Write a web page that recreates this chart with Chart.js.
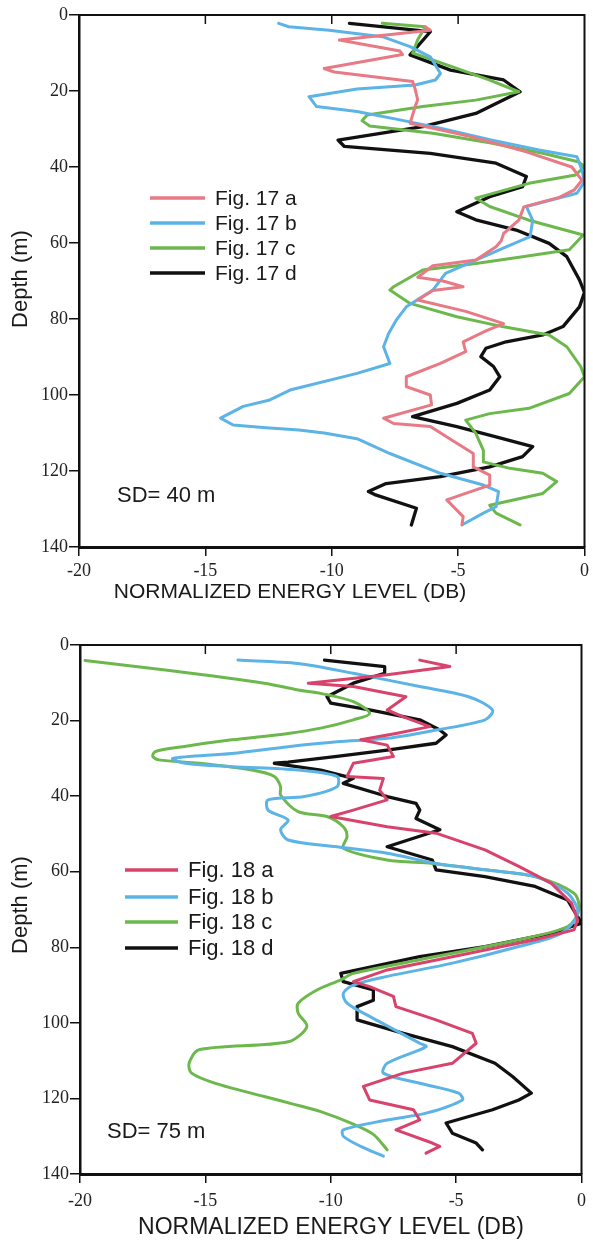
<!DOCTYPE html>
<html>
<head>
<meta charset="utf-8">
<script src="https://cdn.jsdelivr.net/npm/chart.js@4/dist/chart.umd.min.js"></script>
<style>
  html, body { margin: 0; padding: 0; background: #fff; }
  #wrap { position: relative; width: 593px; height: 1244px; }
  canvas { position: absolute; left: 0; }
</style>
</head>
<body>
<div id="wrap">
  <canvas id="c1" width="593" height="620" style="top:0"></canvas>
  <canvas id="c2" width="593" height="624" style="top:620px"></canvas>
</div>
<script>
// ---------- axis ticks ----------
const levelTicks = [-20, -15, -10, -5, 0];
const depthTicks = [0, 20, 40, 60, 80, 100, 120, 140];

// ---------- Figure 17 (SD = 40 m) ----------
const fig17Labels = ['Fig. 17 a', 'Fig. 17 b', 'Fig. 17 c', 'Fig. 17 d'];

const fig17aDepth = [3.1, 4.0, 6.6, 9.5, 10.4, 14.1, 15.0, 17.5, 19.5, 22.3, 24.1, 28.5, 32, 36, 40, 43.5, 46, 48, 50.5, 54, 57.5, 59.5, 61, 64.5, 66, 69, 70, 71.5, 72.5, 75, 78, 81.2, 83.1, 86, 88.6, 91.7, 95.2, 97.8, 100, 102.6, 106.1, 107.5, 108.3, 112.7, 115.4, 118.9, 121.1, 123.7, 127.6, 132, 134.2];
const fig17aLevel = [-6.3, -6.1, -9.7, -7.3, -7.2, -10.3, -9.9, -6.8, -6.7, -6.6, -6.7, -6.9, -4.5, -2.3, -0.5, -0.1, -0.4, -1.0, -2.4, -2.6, -3.2, -3.3, -3.5, -4.3, -6.0, -6.6, -5.6, -4.8, -6.0, -6.6, -4.7, -3.2, -3.9, -4.8, -4.7, -5.7, -7.05, -7.05, -6.1, -6.05, -7.95, -7.55, -6.1, -5.05, -4.4, -4.4, -3.75, -3.75, -5.45, -4.8, -4.85];

const fig17bDepth = [2.2, 3.1, 4.0, 5.7, 8.3, 11, 15.4, 17.1, 18.4, 19.5, 21.5, 24.1, 25.4, 27.6, 29.8, 32.9, 35.5, 37.3, 40.8, 43.9, 46.9, 50.4, 54, 58.3, 61, 64.5, 68, 72.4, 76.8, 80.3, 83.8, 87.3, 91.7, 94.3, 98.7, 101.3, 103, 106.1, 107.9, 108.6, 109.2, 110, 111.5, 115.4, 120.6, 123.7, 125.4, 129.4, 131.1, 134];
const fig17bLevel = [-12.1, -11.7, -10.1, -8.0, -6.9, -6.1, -5.7, -5.9, -6.7, -9.0, -10.9, -10.6, -9.0, -7.3, -5.7, -3.7, -1.8, -0.3, -0.1, 0.0, -0.3, -2.3, -2.05, -2.15, -3.1, -4.3, -5.5, -6.0, -7.05, -7.45, -7.75, -7.95, -7.7, -9.0, -11.65, -12.45, -13.5, -14.4, -13.9, -12.6, -11.3, -10.3, -9.0, -7.7, -5.7, -4.0, -3.4, -3.5, -4.0, -4.8];

const fig17cDepth = [2.2, 3.1, 6.5, 10, 13, 17, 20.2, 22.4, 24.1, 26.3, 27.8, 29.2, 31.1, 33.6, 36.4, 38.6, 39.9, 42.1, 44.3, 48.2, 50.4, 54, 57.9, 61.8, 63.6, 65.4, 67.1, 71.5, 72.4, 75.9, 79.4, 82, 84.2, 87.3, 92.5, 95.2, 99.6, 103.5, 104.9, 106.6, 110.1, 114.6, 117.6, 119.3, 120.6, 122.8, 125.9, 129, 131.1, 134.2];
const fig17cLevel = [-8.0, -6.3, -6.6, -6.8, -5.5, -3.8, -2.6, -4.3, -6.4, -8.6, -8.8, -8.5, -6.0, -3.75, -1.65, -0.25, 0.0, -0.35, -2.2, -4.3, -3.75, -2.2, -0.05, -0.6, -2.45, -4.3, -6.4, -7.55, -7.7, -6.9, -5.05, -3.25, -1.4, -0.7, -0.15, 0.0, -0.6, -2.2, -3.75, -4.7, -4.3, -4.0, -4.0, -2.95, -1.65, -1.1, -1.65, -3.75, -3.5, -2.55];

const fig17dDepth = [2.2, 4.4, 10.5, 14.5, 17.1, 20.2, 25.9, 29.4, 32.9, 34.6, 36.4, 39, 42.5, 45.2, 47.8, 51.8, 53.9, 56.6, 60.1, 63.6, 69.7, 73, 76.8, 82, 84.2, 86, 87.7, 89.9, 92.5, 95.2, 98.7, 102.2, 105.7, 108.3, 111, 113.6, 116.2, 118.9, 121.5, 123.3, 125.4, 126.2, 129.8, 134.2];
const fig17dLevel = [-9.3, -6.1, -6.9, -5.3, -3.2, -2.55, -4.3, -6.4, -9.75, -9.5, -6.1, -3.5, -2.3, -2.45, -3.75, -5.05, -4.3, -2.7, -1.4, -0.7, -0.2, 0.0, -0.2, -0.85, -1.65, -3.1, -3.9, -4.1, -3.6, -3.35, -3.75, -5.05, -6.8, -5.05, -3.5, -2.05, -2.45, -3.75, -5.7, -7.85, -8.55, -8.3, -6.65, -6.85];

// ---------- Figure 18 (SD = 75 m) ----------
const fig18Labels = ['Fig. 18 a', 'Fig. 18 b', 'Fig. 18 c', 'Fig. 18 d'];

const fig18aDepth = [4.0, 5.7, 7.9, 10.1, 11.0, 13.7, 17.2, 19.0, 21.6, 23.4, 25.1, 26.5, 29.5, 31.3, 34.8, 35.3, 38.4, 41.0, 43.7, 45.4, 48.1, 49.8, 54.2, 58.6, 63.1, 68.3, 72.8, 75.4, 78.0, 82.5, 86.0, 89.1, 90.4, 93.0, 95.7, 99.2, 102.8, 105.4, 110.7, 113.3, 116.8, 120.4, 123.0, 125.7, 128.3, 131.8, 132.7, 134.5];
const fig18aLevel = [-6.45, -5.25, -7.75, -10.9, -9.1, -7.0, -7.75, -7.1, -6.05, -7.4, -8.8, -7.75, -7.5, -9.1, -9.35, -7.9, -8.05, -7.75, -9.1, -10.0, -7.75, -5.8, -3.85, -2.5, -1.2, -0.4, -0.15, -0.3, -1.85, -5.15, -7.75, -9.1, -8.45, -7.5, -7.4, -5.8, -4.35, -4.2, -5.15, -7.1, -8.7, -8.45, -6.7, -6.45, -7.4, -5.95, -5.65, -6.2];

const fig18bDepth = [4.0, 4.9, 7.5, 11.0, 13.7, 17.2, 19.8, 22.5, 24.7, 25.6, 26.9, 28.7, 30.0, 31.3, 32.2, 33.1, 34.8, 37.5, 40.1, 41.0, 43.7, 46.3, 48.9, 51.6, 53.4, 55.1, 57.8, 59.5, 61.3, 65.7, 71.0, 76.3, 79.8, 84.2, 87.7, 90.0, 92.2, 94.8, 98.3, 105.4, 106.3, 110.7, 113.3, 116.0, 118.6, 120.4, 123.9, 125.7, 128.3, 130.0, 132.7, 135.3];
const fig18bLevel = [-13.7, -11.3, -9.1, -6.45, -4.5, -3.55, -3.85, -5.8, -7.75, -9.75, -11.7, -13.95, -16.3, -15.8, -13.95, -11.3, -9.75, -9.75, -11.05, -12.5, -12.5, -11.7, -12.0, -11.7, -9.75, -7.75, -5.8, -3.85, -1.85, -0.55, -0.15, -0.8, -2.5, -5.15, -7.75, -9.1, -9.5, -9.35, -8.45, -6.45, -6.2, -7.75, -7.9, -6.45, -4.9, -4.75, -6.2, -7.75, -9.5, -9.5, -8.8, -7.9];

const fig18cDepth = [4.1, 6.6, 10.1, 11.9, 12.8, 15.0, 18.1, 19.8, 22.0, 23.4, 25.1, 26.9, 28.2, 29.5, 30.4, 31.3, 33.1, 34.8, 37.5, 39.7, 44.1, 45.4, 48.1, 50.7, 53.8, 56.9, 57.8, 59.5, 61.3, 65.7, 70.1, 74.5, 78.0, 83.3, 86.9, 88.6, 91.3, 94.8, 97.4, 101.0, 105.0, 107.1, 110.7, 113.3, 116.0, 119.5, 121.5, 123.5, 126.8, 129.5, 133.6];
const fig18cLevel = [-19.8, -16.6, -12.65, -11.3, -10.4, -9.1, -8.45, -9.1, -10.4, -11.7, -13.95, -15.9, -17.0, -17.1, -16.85, -15.25, -13.15, -12.25, -12.0, -12.0, -11.3, -10.15, -9.5, -9.35, -9.5, -7.75, -5.95, -3.85, -1.85, -0.3, -0.1, -0.55, -2.5, -6.45, -9.1, -9.6, -10.55, -11.3, -11.3, -10.95, -11.7, -15.25, -15.65, -15.55, -14.6, -12.65, -11.5, -10.4, -9.1, -8.3, -7.75];

const fig18dDepth = [4.0, 5.7, 7.5, 10.1, 13.7, 15.4, 17.2, 19.8, 22.5, 23.8, 26.0, 27.8, 29.5, 31.0, 31.3, 33.1, 35.3, 36.6, 40.1, 41.9, 43.7, 45.9, 48.9, 53.4, 56.9, 59.5, 61.3, 63.9, 67.5, 73.6, 76.3, 79.8, 82.5, 86.9, 89.1, 91.3, 94.0, 95.7, 99.2, 102.8, 106.3, 110.7, 114.2, 118.6, 120.4, 123.0, 126.5, 129.2, 131.8, 133.6];
const fig18dLevel = [-10.25, -7.85, -7.85, -9.1, -10.15, -10.0, -8.45, -6.45, -5.65, -5.4, -5.8, -7.75, -9.75, -11.7, -12.25, -10.4, -9.1, -9.5, -7.75, -6.6, -6.45, -6.6, -5.65, -7.75, -5.95, -5.8, -3.85, -1.85, -0.55, 0.0, -1.2, -3.85, -6.45, -9.6, -9.5, -8.3, -8.3, -8.95, -8.95, -7.1, -5.15, -3.45, -2.75, -2.0, -2.5, -3.55, -5.4, -5.15, -4.2, -3.95];

// ---------- helpers ----------
function pts(depth, level) { return depth.map((d, i) => ({ x: level[i], y: d })); }

function ds(label, depth, level, color, width, tension) {
  return { label, data: pts(depth, level), borderColor: color, backgroundColor: color,
           borderWidth: width, pointRadius: 0, showLine: true, tension: tension,
           borderJoinStyle: 'round', borderCapStyle: 'round' };
}

const decorPlugin = {
  id: 'decor',
  afterDraw(chart, args, o) {
    const ctx = chart.ctx;
    const a = chart.chartArea;
    const xs = chart.scales.x;
    ctx.save();
    ctx.strokeStyle = '#111';
    // top & right frame
    ctx.lineWidth = 2;
    ctx.beginPath();
    ctx.moveTo(a.left, a.top); ctx.lineTo(a.right, a.top); ctx.lineTo(a.right, a.bottom);
    ctx.stroke();
    // inward ticks on the top border
    ctx.lineWidth = 1.5;
    levelTicks.slice(1, -1).forEach(v => {
      const px = xs.getPixelForValue(v);
      ctx.beginPath(); ctx.moveTo(px, a.top); ctx.lineTo(px, a.top + 9); ctx.stroke();
    });
    ctx.fillStyle = '#1a1a1a';
    // legend
    ctx.font = o.legendFont + 'px "Liberation Sans", Arial, sans-serif';
    ctx.textBaseline = 'middle';
    ctx.textAlign = 'left';
    chart.data.datasets.forEach((d, i) => {
      const y = o.legendY[i];
      ctx.strokeStyle = d.borderColor;
      ctx.lineWidth = 3.5;
      ctx.beginPath(); ctx.moveTo(o.legendX0, y); ctx.lineTo(o.legendX1, y); ctx.stroke();
      ctx.fillText(d.label, o.legendTextX, y + 1);
    });
    // SD note
    ctx.font = o.sdFont + 'px "Liberation Sans", Arial, sans-serif';
    ctx.fillText(o.sdText, o.sdX, o.sdY);
    // x title
    ctx.textAlign = 'center';
    ctx.font = o.xTitleFont + 'px "Liberation Sans", Arial, sans-serif';
    ctx.fillText(o.xTitle, o.xTitleX, o.xTitleY);
    // y title
    ctx.translate(o.yTitleX, o.yTitleY);
    ctx.rotate(-Math.PI / 2);
    ctx.font = o.yTitleFont + 'px "Liberation Sans", Arial, sans-serif';
    ctx.fillText(o.yTitle, 0, 0);
    ctx.restore();
  }
};

function makeChart(id, datasets, yWidth, xHeight, padding, decor) {
  return new Chart(document.getElementById(id), {
    type: 'scatter',
    data: { datasets },
    options: {
      responsive: false,
      animation: false,
      layout: { padding },
      plugins: { legend: { display: false }, tooltip: { enabled: false }, decor },
      scales: {
        x: {
          type: 'linear', min: levelTicks[0], max: levelTicks[levelTicks.length - 1],
          afterBuildTicks: s => { s.ticks = levelTicks.map(v => ({ value: v })); },
          afterFit: s => { s.height = xHeight; },
          grid: { drawOnChartArea: false, drawTicks: true, tickLength: decor.xTickLen, color: '#111', lineWidth: 1.5 },
          border: { display: true, color: '#111', width: 3 },
          ticks: { color: '#222', padding: decor.xTickPad, font: { family: '"Liberation Serif", "Times New Roman", serif', size: 18 } }
        },
        y: {
          type: 'linear', reverse: true, min: depthTicks[0], max: depthTicks[depthTicks.length - 1],
          afterBuildTicks: s => { s.ticks = depthTicks.map(v => ({ value: v })); },
          afterFit: s => { s.width = yWidth; },
          grid: { drawOnChartArea: false, drawTicks: true, tickLength: 10, color: '#111', lineWidth: 1.5 },
          border: { display: true, color: '#111', width: 2.5 },
          ticks: { color: '#222', padding: 1, font: { family: '"Liberation Serif", "Times New Roman", serif', size: 18 } }
        }
      }
    },
    plugins: [decorPlugin]
  });
}

makeChart('c1', [
  ds(fig17Labels[0], fig17aDepth, fig17aLevel, '#e77a84', 3, 0),
  ds(fig17Labels[1], fig17bDepth, fig17bLevel, '#5cb3e6', 3, 0),
  ds(fig17Labels[2], fig17cDepth, fig17cLevel, '#6cb84c', 3, 0),
  ds(fig17Labels[3], fig17dDepth, fig17dLevel, '#111111', 3.3, 0)
], 79, 73, { left: 0, top: 15, right: 8, bottom: 0 }, {
  xTickLen: 9, xTickPad: 4,
  legendFont: 21, legendX0: 150, legendX1: 205, legendTextX: 215, legendY: [198, 223, 248, 273],
  sdFont: 22, sdText: 'SD= 40 m', sdX: 117, sdY: 496,
  xTitleFont: 21, xTitle: 'NORMALIZED ENERGY LEVEL (DB)', xTitleX: 290, xTitleY: 592,
  yTitleFont: 22, yTitle: 'Depth (m)', yTitleX: 21, yTitleY: 279
});

makeChart('c2', [
  ds(fig18Labels[0], fig18aDepth, fig18aLevel, '#d8436c', 3, 0),
  ds(fig18Labels[1], fig18bDepth, fig18bLevel, '#5cb3e6', 3, 0.3),
  ds(fig18Labels[2], fig18cDepth, fig18cLevel, '#6cb84c', 3, 0.3),
  ds(fig18Labels[3], fig18dDepth, fig18dLevel, '#111111', 3.3, 0)
], 80, 70, { left: 0, top: 25, right: 6, bottom: 0 }, {
  xTickLen: 9, xTickPad: 7,
  legendFont: 22, legendX0: 125, legendX1: 178, legendTextX: 188, legendY: [250, 277, 302, 328],
  sdFont: 22, sdText: 'SD= 75 m', sdX: 107, sdY: 512,
  xTitleFont: 23, xTitle: 'NORMALIZED ENERGY LEVEL (DB)', xTitleX: 331, xTitleY: 608,
  yTitleFont: 22, yTitle: 'Depth (m)', yTitleX: 21, yTitleY: 285
});
</script>
</body>
</html>
